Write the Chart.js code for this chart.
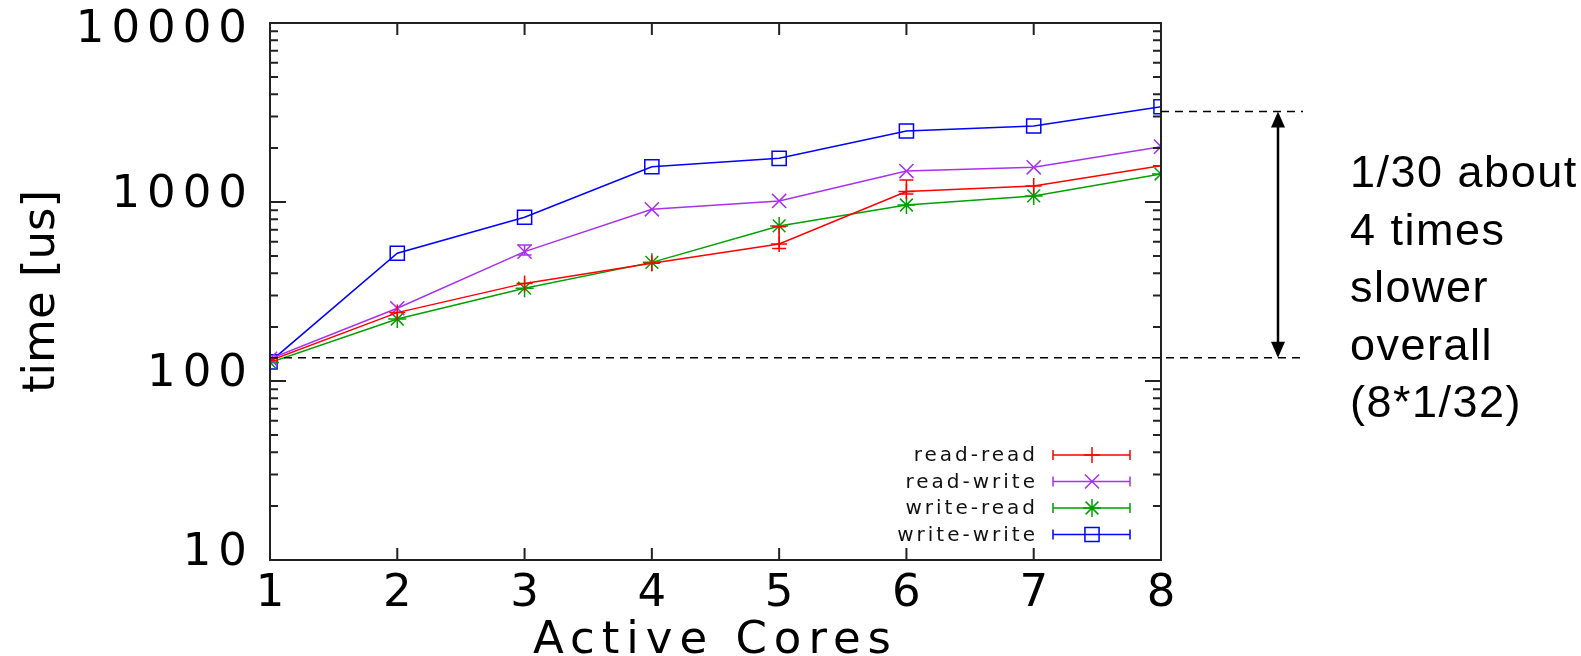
<!DOCTYPE html>
<html>
<head>
<meta charset="utf-8">
<script src="https://cdn.jsdelivr.net/npm/chart.js@4.4.1/dist/chart.umd.min.js"></script>
<style>
  html, body { margin: 0; padding: 0; background: #fff; }
  #wrap { position: relative; width: 1581px; height: 656px; }
</style>
</head>
<body>
<div id="wrap"><canvas id="chart"></canvas></div>
<script>
// Values (time in microseconds, log scale).
const cores = [1, 2, 3, 4, 5, 6, 7, 8];
const readRead = [130, 241, 351, 455, 583, 1143, 1228, 1596];
const readWrite = [133, 255, 528, 910, 1014, 1489, 1563, 2038];
const writeRead = [127, 222, 330, 460, 735, 962, 1081, 1433];
const writeWrite = [128, 517, 822, 1574, 1754, 2493, 2660, 3406];

// [low, high] error bars, only where they are visible in the picture.
const readReadErr = [null, null, null, null, [549, 728], [1110, 1327], null, null];
const readWriteErr = [null, null, [505, 575], null, null, null, null, null];

const yTickValues = [10, 100, 1000, 10000];
const seriesNames = ["read-read", "read-write", "write-read", "write-write"];

// Annotation on the right: slowdown between 1 core and 8 cores.
const baseLevel = 135;
const topLevel = 3200;
const noteLines = ["1/30 about", "4 times", "slower", "overall", "(8*1/32)"];

const toPoints = (arr) => arr.map((v, i) => ({ x: cores[i], y: v }));

function series(label, values, color, marker, size, err) {
  return {
    label,
    data: toPoints(values),
    borderColor: color,
    backgroundColor: color,
    borderWidth: 1.5,
    pointStyle: marker,
    pointRadius: size,
    pointBorderWidth: 1.5,
    pointBackgroundColor: "rgba(0,0,0,0)",
    tension: 0,
    errorBars: err || [],
  };
}

const datasets = [
  series(seriesNames[0], readRead, "#ff0000", "cross", 8, readReadErr),
  series(seriesNames[1], readWrite, "#a830f0", "crossRot", 10, readWriteErr),
  series(seriesNames[2], writeRead, "#00a000", "star", 9),
  series(seriesNames[3], writeWrite, "#0000ff", "rect", 10),
];

// gnuplot-ish decorations: inward ticks, frame, error bars, key and the note.
// The gnuplot picture was stretched sideways, letterSpacing fakes that for
// the axis texts; the rotated y title (drawn after the datasets) gets none.
const gnuplotLook = {
  id: "gnuplotLook",
  beforeDraw(chart) {
    chart.ctx.letterSpacing = "7px";
  },
  afterDatasetsDraw(chart) {
    const { ctx } = chart;
    const xs = chart.scales.x, ys = chart.scales.y;
    chart.data.datasets.forEach((ds) => {
      ds.errorBars.forEach((e, i) => {
        if (!e) return;
        const x = xs.getPixelForValue(cores[i]);
        const y0 = ys.getPixelForValue(e[0]);
        const y1 = ys.getPixelForValue(e[1]);
        ctx.save();
        ctx.strokeStyle = ds.borderColor;
        ctx.lineWidth = 1.5;
        ctx.beginPath();
        ctx.moveTo(x, y0); ctx.lineTo(x, y1);
        ctx.moveTo(x - 7, y0); ctx.lineTo(x + 7, y0);
        ctx.moveTo(x - 7, y1); ctx.lineTo(x + 7, y1);
        ctx.stroke();
        ctx.restore();
      });
    });
    ctx.letterSpacing = "0px";
  },
  afterDraw(chart) {
    const { ctx, chartArea: a } = chart;
    const xs = chart.scales.x, ys = chart.scales.y;
    ctx.save();
    ctx.strokeStyle = "#222";
    ctx.lineWidth = 2;
    ctx.strokeRect(a.left, a.top, a.right - a.left, a.bottom - a.top);

    // y ticks, major and minor, mirrored on the right
    ctx.beginPath();
    for (let d = 10; d <= 10000; d *= 10) {
      for (let m = 1; m <= 9; m++) {
        const v = m * d;
        if (v > 10000) break;
        const y = ys.getPixelForValue(v);
        const len = m === 1 ? 16 : 8;
        ctx.moveTo(a.left, y); ctx.lineTo(a.left + len, y);
        ctx.moveTo(a.right, y); ctx.lineTo(a.right - len, y);
      }
    }
    // x ticks, mirrored on top
    cores.forEach((c) => {
      const x = xs.getPixelForValue(c);
      ctx.moveTo(x, a.bottom); ctx.lineTo(x, a.bottom - 12);
      ctx.moveTo(x, a.top); ctx.lineTo(x, a.top + 12);
    });
    ctx.stroke();

    // dashed reference lines
    const yBase = ys.getPixelForValue(baseLevel);
    const yTop = ys.getPixelForValue(topLevel);
    ctx.strokeStyle = "#000";
    ctx.lineWidth = 1.5;
    ctx.setLineDash([8, 6]);
    ctx.beginPath();
    ctx.moveTo(a.left, yBase); ctx.lineTo(1303, yBase);
    ctx.moveTo(a.right, yTop); ctx.lineTo(1303, yTop);
    ctx.stroke();
    ctx.setLineDash([]);

    // double arrow
    const ax = 1278;
    ctx.lineWidth = 2.5;
    ctx.beginPath();
    ctx.moveTo(ax, yTop + 14); ctx.lineTo(ax, yBase - 14);
    ctx.stroke();
    ctx.fillStyle = "#000";
    ctx.beginPath();
    ctx.moveTo(ax, yTop); ctx.lineTo(ax - 7, yTop + 16); ctx.lineTo(ax + 7, yTop + 16); ctx.closePath();
    ctx.moveTo(ax, yBase); ctx.lineTo(ax - 7, yBase - 16); ctx.lineTo(ax + 7, yBase - 16); ctx.closePath();
    ctx.fill();

    // note text
    ctx.letterSpacing = "1.5px";
    ctx.font = '45px "Liberation Sans", Arial, sans-serif';
    ctx.textAlign = "left";
    ctx.textBaseline = "alphabetic";
    noteLines.forEach((t, i) => ctx.fillText(t, 1350, 187 + i * 57.5));

    // key
    ctx.letterSpacing = "3px";
    ctx.font = '20px "DejaVu Sans", sans-serif';
    ctx.textAlign = "right";
    ctx.textBaseline = "middle";
    chart.data.datasets.forEach((ds, i) => {
      const y = 455 + i * 26.5;
      ctx.fillStyle = "#111";
      ctx.fillText(ds.label, 1038, y + 1);
      ctx.strokeStyle = ds.borderColor;
      ctx.lineWidth = 1.5;
      ctx.beginPath();
      ctx.moveTo(1053, y); ctx.lineTo(1130, y);
      ctx.moveTo(1053, y - 5); ctx.lineTo(1053, y + 5);
      ctx.moveTo(1130, y - 5); ctx.lineTo(1130, y + 5);
      ctx.stroke();
      if (Chart.helpers && Chart.helpers.drawPoint) {
        ctx.fillStyle = "rgba(0,0,0,0)";
        Chart.helpers.drawPoint(ctx, { pointStyle: ds.pointStyle, radius: ds.pointRadius, borderWidth: 1.5 }, 1092, y);
      }
    });
    ctx.restore();
  },
};

const tickFont = (c) => ({
  family: "DejaVu Sans",
  size: 45,
  // the top label sits a bit lower than its tick in the picture
  lineHeight: c.tick && c.tick.value === 10000 ? 0.62 : 1.2,
});

new Chart(document.getElementById("chart"), {
  type: "line",
  data: { datasets },
  plugins: [gnuplotLook],
  options: {
    responsive: true,
    maintainAspectRatio: false,
    animation: false,
    layout: { padding: { top: 23, right: 420, left: 0, bottom: 0 } },
    plugins: { legend: { display: false }, tooltip: { enabled: false } },
    scales: {
      x: {
        type: "linear",
        min: 1,
        max: 8,
        afterFit: (s) => { s.height = 96; s.paddingLeft = 0; s.paddingRight = 0; },
        grid: { display: false, drawTicks: false },
        border: { display: false },
        ticks: {
          stepSize: 1,
          padding: 7,
          labelOffset: 3.5,
          color: "#000",
          font: { family: "DejaVu Sans", size: 45 },
        },
        title: {
          display: true,
          text: "Active Cores",
          color: "#000",
          font: { family: "DejaVu Sans", size: 45, lineHeight: 0.65 },
          padding: 0,
        },
      },
      y: {
        type: "logarithmic",
        min: 10,
        max: 10000,
        afterFit: (s) => { s.width = 270; s.paddingTop = 0; s.paddingBottom = 0; },
        afterBuildTicks: (s) => { s.ticks = yTickValues.map((v) => ({ value: v })); },
        grid: { display: false, drawTicks: false, z: 1 },
        border: { display: false },
        ticks: {
          padding: 16,
          labelOffset: -7,
          color: "#000",
          font: tickFont,
          callback: (v) => (v === 10000 ? ["", String(v)] : String(v)),
        },
        title: {
          display: true,
          text: "time [us]",
          color: "#000",
          font: { family: "DejaVu Sans", size: 45 },
          padding: { top: 15, bottom: 0 },
        },
      },
    },
  },
});
</script>
</body>
</html>
